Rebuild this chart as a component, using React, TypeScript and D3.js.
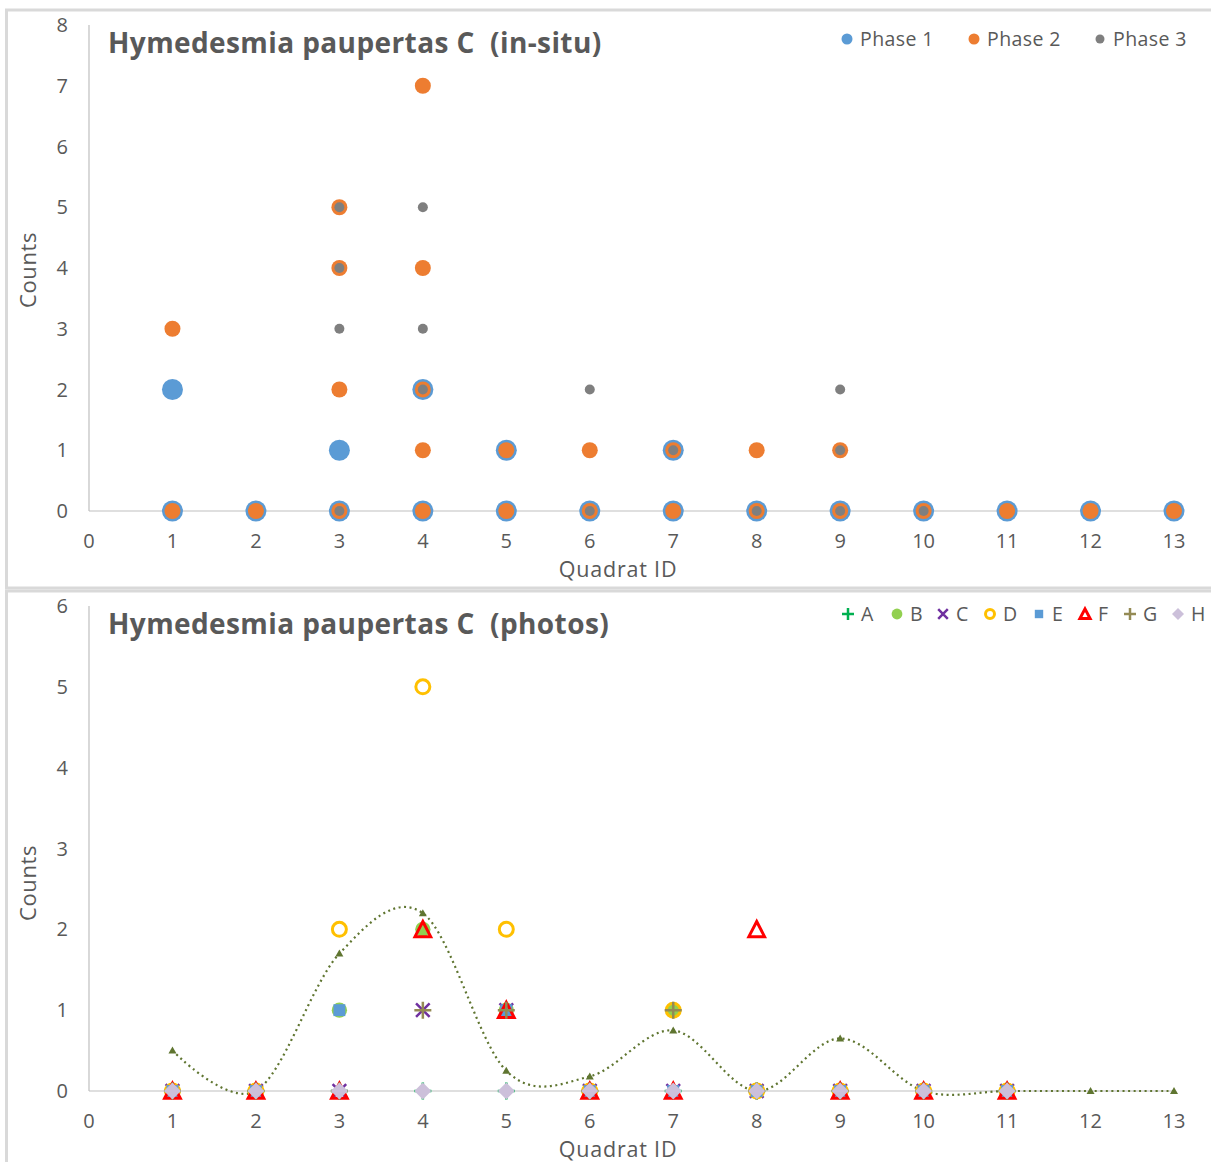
import * as d3 from "d3";
import React, { useRef, useEffect } from "react";

// top chart: (quadrat, count) pairs per phase
const phase1X = [1, 1, 2, 3, 3, 4, 4, 5, 5, 6, 7, 7, 8, 9, 10, 11, 12, 13];
const phase1Y = [0, 2, 0, 0, 1, 0, 2, 0, 1, 0, 0, 1, 0, 0, 0, 0, 0, 0];
const phase2X = [1, 1, 2, 3, 3, 3, 3, 4, 4, 4, 4, 4, 5, 5, 6, 6, 7, 7, 8, 8, 9, 9, 10, 11, 12, 13];
const phase2Y = [0, 3, 0, 0, 2, 4, 5, 0, 1, 2, 4, 7, 0, 1, 0, 1, 0, 1, 0, 1, 0, 1, 0, 0, 0, 0];
const phase3X = [3, 3, 3, 3, 4, 4, 4, 6, 6, 7, 8, 9, 9, 9, 10];
const phase3Y = [0, 3, 4, 5, 2, 3, 5, 0, 2, 1, 0, 0, 1, 2, 0];

// bottom chart: quadrats 1..11, one value per photo series (null = no point)
const quadrats = [1, 2, 3, 4, 5, 6, 7, 8, 9, 10, 11];
const seriesA = [0, 0, 0, 0, 0, 0, 0, 0, 0, 0, 0];
const seriesB = [0, 0, 1, 2, 1, 0, 1, 0, 0, 0, 0];
const seriesC = [0, 0, 0, 1, 1, 0, 0, 0, 0, 0, 0];
const seriesD = [0, 0, 2, 5, 2, 0, 1, 0, 0, 0, 0];
const seriesE = [0, 0, 1, null, 1, 0, 0, 0, 0, 0, 0];
const seriesF = [0, 0, 0, 2, 1, 0, 0, 2, 0, 0, 0];
const seriesG = [0, 0, 0, 1, 1, 0, 1, 0, 0, 0, 0];
const seriesH = [0, 0, 0, 0, 0, 0, 0, 0, 0, 0, 0];

// smoothed mean line
const trendX = [1, 2, 3, 4, 5, 6, 7, 8, 9, 10, 11, 12, 13];
const trendY = [0.5, 0, 1.7, 2.2, 0.25, 0.18, 0.75, 0, 0.65, 0, 0, 0, 0];

const xTicks = d3.range(0, 14);
const topTicks = d3.range(0, 9);
const botTicks = d3.range(0, 7);

const textCol = "#595959";
const font = "'Open Sans', sans-serif";

const photoSeries = [
  { name: "A", vals: seriesA, shape: "plus", color: "#00B050" },
  { name: "B", vals: seriesB, shape: "circle", color: "#92D050" },
  { name: "C", vals: seriesC, shape: "x", color: "#7030A0" },
  { name: "D", vals: seriesD, shape: "ring", color: "#FFC000" },
  { name: "E", vals: seriesE, shape: "square", color: "#5B9BD5" },
  { name: "F", vals: seriesF, shape: "triangle", color: "#FF0000" },
  { name: "G", vals: seriesG, shape: "plus", color: "#948A54" },
  { name: "H", vals: seriesH, shape: "diamond", color: "#CCC0DA" },
];

// draws one marker into g at (cx, cy), s = half size
const marker = (g: any, shape: string, cx: number, cy: number, s: number, color: string) => {
  if (shape === "circle") {
    g.append("circle").attr("cx", cx).attr("cy", cy).attr("r", s * 0.9).attr("fill", color);
  } else if (shape === "ring") {
    g.append("circle").attr("cx", cx).attr("cy", cy).attr("r", s - 1.5)
      .attr("fill", "none").attr("stroke", color).attr("stroke-width", 3);
  } else if (shape === "square") {
    g.append("rect").attr("x", cx - s * 0.7).attr("y", cy - s * 0.7)
      .attr("width", s * 1.4).attr("height", s * 1.4).attr("fill", color);
  } else if (shape === "diamond") {
    g.append("path")
      .attr("d", `M${cx},${cy - s}L${cx + s},${cy}L${cx},${cy + s}L${cx - s},${cy}Z`)
      .attr("fill", color);
  } else if (shape === "triangle") {
    const t = s * 1.1;
    g.append("path")
      .attr("d", `M${cx},${cy - t + 1.5}L${cx + t - 1.5},${cy + t - 2}L${cx - t + 1.5},${cy + t - 2}Z`)
      .attr("fill", "none").attr("stroke", color).attr("stroke-width", 3)
      .attr("stroke-linejoin", "miter");
  } else if (shape === "plus") {
    g.append("path")
      .attr("d", `M${cx - s},${cy}H${cx + s}M${cx},${cy - s}V${cy + s}`)
      .attr("stroke", color).attr("stroke-width", 2.5);
  } else if (shape === "x") {
    const k = s * 0.8;
    g.append("path")
      .attr("d", `M${cx - k},${cy - k}L${cx + k},${cy + k}M${cx - k},${cy + k}L${cx + k},${cy - k}`)
      .attr("stroke", color).attr("stroke-width", 2.5);
  }
};

const drawFrame = (svg: any, top: number, y: any, ticks: number[], x: any, title: string, countsY: number) => {
  const y0 = y(0);
  const g = svg.append("g");
  // frame
  g.append("rect").attr("x", 6.5).attr("y", top).attr("width", 1215).attr("height", 578)
    .attr("fill", "#fff").attr("stroke", "#D9D9D9").attr("stroke-width", 3);
  // axes lines
  g.append("line").attr("x1", x(0)).attr("x2", x(0)).attr("y1", y(ticks[ticks.length - 1])).attr("y2", y0)
    .attr("stroke", "#BFBFBF").attr("stroke-width", 1.2);
  g.append("line").attr("x1", x(0)).attr("x2", x(13)).attr("y1", y0).attr("y2", y0)
    .attr("stroke", "#BFBFBF").attr("stroke-width", 1.2);
  // tick labels
  g.selectAll(".yt").data(ticks).enter().append("text")
    .attr("x", 68).attr("y", (d: number) => y(d) + 7).attr("text-anchor", "end")
    .attr("font-family", font).attr("font-size", 20).attr("fill", textCol).text((d: number) => d);
  g.selectAll(".xt").data(xTicks).enter().append("text")
    .attr("x", (d: number) => x(d)).attr("y", y0 + 37).attr("text-anchor", "middle")
    .attr("font-family", font).attr("font-size", 20).attr("fill", textCol).text((d: number) => d);
  g.append("text").attr("x", 618).attr("y", y0 + 66).attr("text-anchor", "middle")
    .attr("font-family", font).attr("font-size", 21.5).attr("letter-spacing", 0.8)
    .attr("fill", textCol).text("Quadrat ID");
  g.append("text").attr("transform", `translate(36,${countsY}) rotate(-90)`).attr("text-anchor", "middle")
    .attr("font-family", font).attr("font-size", 22).attr("letter-spacing", 0.6)
    .attr("fill", textCol).text("Counts");
  g.append("text").attr("x", 108).attr("y", y(ticks[ticks.length - 1]) + 28)
    .attr("font-family", font).attr("font-size", 28).attr("font-weight", "bold")
    .attr("letter-spacing", 0.4).style("white-space", "pre")
    .attr("fill", textCol).text(title);
};

function App() {
  const ref = useRef<any>(null);
  useEffect(() => {
    const svg = d3.select(ref.current);
    svg.selectAll("*").remove();
    const x = d3.scaleLinear().domain([0, 13]).range([89, 1174]);
    const yTop = d3.scaleLinear().domain([0, 8]).range([511, 25]);
    const yBot = d3.scaleLinear().domain([0, 6]).range([1091, 606]);

    // ---- top chart
    drawFrame(svg, 10, yTop, topTicks, x, "Hymedesmia paupertas C  (in-situ)", 270);
    const phases = [
      { name: "Phase 1", xs: phase1X, ys: phase1Y, r: 10.5, lr: 5.5, color: "#5B9BD5" },
      { name: "Phase 2", xs: phase2X, ys: phase2Y, r: 8, lr: 5.5, color: "#ED7D31" },
      { name: "Phase 3", xs: phase3X, ys: phase3Y, r: 5, lr: 4.5, color: "#7F7F7F" },
    ];
    phases.forEach((p) => {
      svg.append("g").selectAll("circle").data(p.xs).enter().append("circle")
        .attr("cx", (d: number) => x(d)).attr("cy", (_d: number, i: number) => yTop(p.ys[i]))
        .attr("r", p.r).attr("fill", p.color);
    });
    const legTopX = [847, 974, 1100];
    phases.forEach((p, i) => {
      svg.append("circle").attr("cx", legTopX[i]).attr("cy", 39).attr("r", p.lr).attr("fill", p.color);
      svg.append("text").attr("x", legTopX[i] + 13).attr("y", 45.5)
        .attr("font-family", font).attr("font-size", 19.5).attr("letter-spacing", 0.4)
        .attr("fill", textCol).text(p.name);
    });

    // ---- bottom chart
    drawFrame(svg, 591, yBot, botTicks, x, "Hymedesmia paupertas C  (photos)", 883);
    const line = d3.line<number>()
      .x((d) => x(d))
      .y((_d, i) => yBot(trendY[i]))
      .curve(d3.curveCardinal.tension(0));
    svg.append("path").datum(trendX).attr("d", line).attr("fill", "none")
      .attr("stroke", "#5F7530").attr("stroke-width", 2.2)
      .attr("stroke-dasharray", "2,3.5");
    svg.append("g").selectAll("path").data(trendX).enter().append("path")
      .attr("d", (d: number, i: number) => {
        const cx = x(d), cy = yBot(trendY[i]);
        return `M${cx},${cy - 4}L${cx + 4},${cy + 3}L${cx - 4},${cy + 3}Z`;
      })
      .attr("fill", "#5F7530");

    photoSeries.forEach((s) => {
      const g = svg.append("g");
      quadrats.forEach((q, i) => {
        const v = s.vals[i];
        if (v === null) return;
        marker(g, s.shape, x(q), yBot(v), 8.5, s.color);
      });
    });
    const legX = [848, 897, 943, 990, 1039, 1085, 1130, 1178];
    photoSeries.forEach((s, i) => {
      const g = svg.append("g");
      marker(g, s.shape, legX[i], 614, 6, s.color);
      g.append("text").attr("x", legX[i] + 13).attr("y", 621)
        .attr("font-family", font).attr("font-size", 19.5).attr("fill", textCol).text(s.name);
    });
  }, []);

  return (
    <div style={{ position: "absolute", left: 0, top: 0 }}>
      <svg ref={ref} width={1211} height={1162} style={{ display: "block", background: "#fff" }}></svg>
    </div>
  );
}

export default App;
